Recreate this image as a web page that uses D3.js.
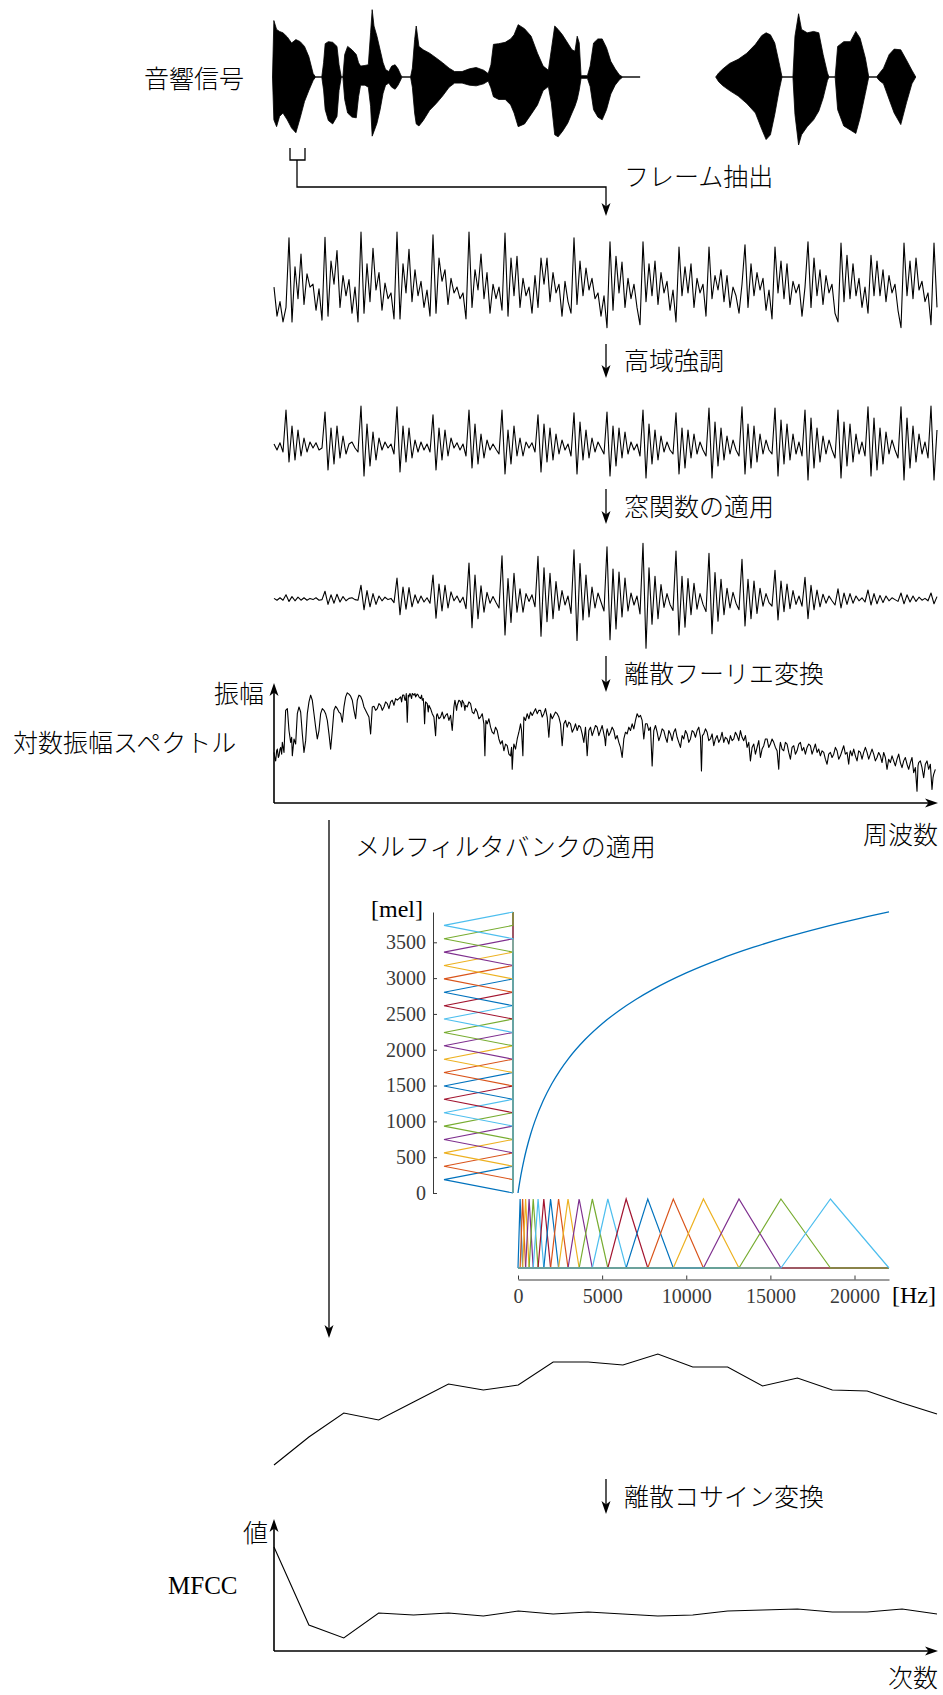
<!DOCTYPE html>
<html><head><meta charset="utf-8">
<script src="https://cdn.jsdelivr.net/npm/d3@7"></script>
<style>
body{margin:0;background:#fff}
svg{display:block}
.jp{font-family:"Noto Sans CJK JP","Noto Sans CJK SC",sans-serif;font-size:25px;font-weight:300;fill:#000}
.rm{font-family:"Liberation Serif","DejaVu Serif",serif;fill:#000}
</style></head><body>
<svg id="fig" width="943" height="1695"></svg>
<script>
// ---- speech signal envelope (time in ms, normalised amplitude) ----
const speechT = [11,17,29,42,57,76,95,114,133,152,171,190,201,228,236,243,257,276,295,304,314,321,329,342,361,380,390,399,418,433,443,450,458,471,485,498,509,523,536,551,564,576,581,619,627,637,644,656,675,703,732,760,789,813,846,878,908,941,961,973,984,1007,1036,1060,1075,1093,1121,1150,1178,1203,1226,1239,1254,1269,1288,1311,1330,1343,1353,1362,1370,1398,1410,1425,1444,1463,1482,1501,1520,1539,1554,1630,
1963,1976,1995,2024,2062,2100,2138,2166,2185,2204,2223,2242,2255,2303,2312,2328,2341,2366,2394,2417,2436,2455,2462,2489,2500,2527,2556,2580,2599,2622,2637,2671,2683,2702,2727,2749,2778,2803,2827,2844];
const speechUpper = [0,0.83,0.70,0.67,0.65,0.59,0.50,0.55,0.52,0.45,0.30,0.05,0,0,0.21,0.49,0.52,0.51,0.45,0.18,0,0,0.33,0.45,0.40,0.33,0.21,0.16,0.17,0.18,0.65,0.99,0.75,0.60,0.40,0.21,0.11,0.08,0.16,0.18,0.12,0.03,0,0,0.13,0.55,0.75,0.45,0.40,0.35,0.28,0.21,0.13,0.08,0.08,0.12,0.14,0.10,0.05,0.18,0.48,0.49,0.51,0.56,0.62,0.77,0.71,0.60,0.35,0.16,0.10,0.40,0.75,0.70,0.62,0.50,0.40,0.38,0.60,0.50,0.02,0.02,0.16,0.50,0.56,0.56,0.43,0.23,0.12,0.03,0,0,
0,0.06,0.12,0.20,0.26,0.35,0.48,0.61,0.65,0.62,0.50,0.21,0,0,0.60,0.93,0.70,0.65,0.67,0.65,0.33,0.06,0,0,0.45,0.52,0.52,0.67,0.57,0.28,0,0,0.05,0.13,0.33,0.41,0.40,0.25,0.10,0];
const speechLower = [0,-0.63,-0.73,-0.58,-0.53,-0.63,-0.75,-0.82,-0.60,-0.36,-0.20,-0.05,0,0,-0.19,-0.48,-0.64,-0.69,-0.58,-0.20,0,0,-0.33,-0.53,-0.59,-0.60,-0.29,-0.12,-0.12,-0.15,-0.43,-0.87,-0.80,-0.68,-0.48,-0.24,-0.12,-0.09,-0.15,-0.18,-0.12,-0.04,0,0,-0.15,-0.53,-0.69,-0.72,-0.64,-0.49,-0.39,-0.28,-0.15,-0.09,-0.09,-0.12,-0.13,-0.10,-0.06,-0.16,-0.29,-0.33,-0.33,-0.41,-0.53,-0.73,-0.69,-0.55,-0.41,-0.20,-0.14,-0.38,-0.85,-0.88,-0.80,-0.68,-0.53,-0.43,-0.33,-0.19,-0.02,-0.02,-0.14,-0.48,-0.59,-0.63,-0.48,-0.25,-0.12,-0.04,0,0,
0,-0.07,-0.13,-0.20,-0.28,-0.39,-0.53,-0.77,-0.92,-0.85,-0.55,-0.20,0,0,-0.55,-1.00,-0.85,-0.73,-0.63,-0.50,-0.31,-0.05,0,0,-0.48,-0.72,-0.78,-0.83,-0.60,-0.24,0,0,-0.05,-0.10,-0.33,-0.53,-0.70,-0.38,-0.10,0];

// ---- one frame (samples) ----
const frameWave = [0.05,-0.45,-0.20,-0.55,-0.30,
0.90,-0.55,0.40,-0.15,0.62,-0.25,0.28,0.05,0.10,-0.35,0.02,-0.52,
0.91,-0.45,0.50,0.10,0.68,-0.30,0.25,-0.10,0.18,-0.40,0.05,-0.55,
1.00,-0.40,0.45,-0.20,0.72,0.00,0.30,-0.35,0.12,-0.15,-0.05,-0.50,
1.00,-0.50,0.45,-0.05,0.70,-0.20,0.35,-0.10,0.15,-0.30,0.00,-0.45,
0.95,-0.40,0.55,0.15,0.35,-0.25,0.20,-0.05,0.05,-0.15,-0.05,-0.50,
1.00,-0.30,0.35,0.00,0.62,-0.15,0.30,-0.40,0.10,-0.15,0.05,-0.35,
0.98,-0.45,0.55,-0.10,0.58,-0.30,0.20,-0.10,0.05,-0.40,0.25,-0.30,
0.55,0.10,0.55,-0.20,0.30,-0.05,0.10,-0.45,0.15,-0.20,-0.40,
0.90,-0.25,0.50,-0.10,0.38,0.00,0.20,-0.15,-0.05,-0.45,-0.10,-0.65,
0.83,-0.35,0.58,-0.05,0.48,-0.30,0.20,-0.15,0.10,-0.30,-0.60,
0.83,-0.20,0.45,-0.10,0.50,-0.25,0.30,-0.05,0.15,-0.35,0.00,-0.55,
0.74,-0.10,0.40,-0.05,0.45,-0.30,0.20,-0.05,0.10,-0.45,
0.74,-0.15,0.25,0.00,0.35,-0.20,0.25,-0.30,0.05,-0.10,-0.40,0.10,
0.78,-0.30,0.45,-0.10,0.30,0.00,0.20,-0.35,0.00,-0.50,
0.74,-0.05,0.50,-0.15,0.45,-0.25,0.15,-0.05,0.10,-0.45,0.05,
0.83,-0.30,0.55,-0.10,0.35,-0.25,0.25,-0.05,0.10,-0.40,-0.55,
0.81,-0.20,0.60,-0.15,0.45,-0.10,0.20,-0.30,0.05,-0.40,
0.60,-0.10,0.50,-0.10,0.35,-0.20,0.25,-0.05,0.10,-0.35,-0.65,
0.81,-0.10,0.50,-0.15,0.55,0.00,0.15,-0.20,-0.05,-0.60,
0.81,-0.30];

// ---- after pre-emphasis ----
const emphWave = [0.05,-0.10,0.08,-0.15,
0.90,-0.40,0.50,-0.35,0.40,-0.25,0.20,-0.15,0.10,-0.05,0.08,-0.10,-0.05,
0.85,-0.60,0.45,-0.45,0.50,-0.30,0.25,-0.20,0.05,0.10,-0.05,-0.15,
1.00,-0.75,0.55,-0.50,0.35,-0.35,0.20,-0.10,0.10,-0.05,0.05,-0.20,
0.98,-0.65,0.50,-0.40,0.45,-0.30,0.15,-0.15,0.10,-0.10,0.05,-0.15,
0.78,-0.60,0.45,-0.35,0.40,-0.25,0.20,-0.05,0.08,-0.10,0.05,-0.25,
0.90,-0.55,0.55,-0.45,0.30,-0.30,0.15,-0.10,0.05,-0.08,-0.20,
0.90,-0.70,0.40,-0.45,0.50,-0.25,0.20,-0.25,0.10,-0.05,0.08,-0.15,
0.78,-0.65,0.55,-0.40,0.45,-0.35,0.30,-0.20,0.15,-0.10,0.05,-0.25,
0.83,-0.70,0.60,-0.35,0.40,-0.30,0.20,-0.15,0.10,-0.05,-0.20,
0.85,-0.75,0.50,-0.50,0.45,-0.30,0.35,-0.20,0.10,-0.10,0.05,-0.25,
0.90,-0.80,0.55,-0.45,0.40,-0.35,0.25,-0.15,0.10,-0.10,-0.20,
0.83,-0.70,0.45,-0.55,0.40,-0.30,0.30,-0.20,0.10,-0.10,-0.25,
0.95,-0.80,0.60,-0.50,0.45,-0.35,0.25,-0.20,0.15,-0.10,-0.25,
0.98,-0.70,0.55,-0.55,0.50,-0.40,0.30,-0.20,0.15,-0.10,-0.20,
0.95,-0.75,0.65,-0.45,0.55,-0.35,0.30,-0.20,0.10,-0.25,
0.90,-0.85,0.70,-0.55,0.45,-0.40,0.25,-0.20,0.15,-0.10,-0.30,
0.90,-0.80,0.60,-0.50,0.55,-0.40,0.30,-0.20,0.10,-0.25,
0.98,-0.75,0.70,-0.60,0.45,-0.45,0.35,-0.20,0.15,-0.10,-0.30,
0.98,-0.85,0.70,-0.55,0.50,-0.40,0.30,-0.20,0.10,-0.30,
1.00,-0.85,0.40];

// ---- after the window ----
const windowedWave = [0.01,-0.02,0.02,-0.02,
0.07,-0.04,0.04,-0.03,0.03,-0.02,0.02,-0.02,0.01,-0.01,0.02,-0.02,-0.01,
0.13,-0.09,0.07,-0.07,0.08,-0.05,0.04,-0.03,0.01,0.02,-0.01,-0.02,
0.23,-0.18,0.14,-0.13,0.09,-0.09,0.05,-0.03,0.03,-0.01,0.01,-0.06,
0.35,-0.26,0.20,-0.17,0.19,-0.13,0.07,-0.07,0.05,-0.05,0.02,-0.07,
0.40,-0.32,0.25,-0.20,0.23,-0.15,0.12,-0.03,0.05,-0.06,0.03,-0.16,
0.60,-0.48,0.40,-0.33,0.22,-0.22,0.11,-0.07,0.04,-0.06,-0.15,
0.72,-0.60,0.34,-0.39,0.43,-0.22,0.17,-0.22,0.09,-0.04,0.07,-0.13,
0.71,-0.62,0.52,-0.38,0.43,-0.33,0.29,-0.19,0.14,-0.10,0.05,-0.24,
0.82,-0.69,0.59,-0.35,0.40,-0.30,0.20,-0.15,0.10,-0.05,-0.20,
0.87,-0.68,0.50,-0.50,0.45,-0.30,0.35,-0.20,0.10,-0.10,0.05,-0.25,
0.93,-0.82,0.52,-0.42,0.38,-0.33,0.24,-0.14,0.09,-0.09,-0.19,
0.80,-0.60,0.38,-0.47,0.34,-0.26,0.26,-0.17,0.09,-0.09,-0.21,
0.76,-0.58,0.44,-0.37,0.33,-0.26,0.18,-0.15,0.11,-0.07,-0.18,
0.66,-0.45,0.33,-0.33,0.30,-0.24,0.18,-0.12,0.09,-0.06,-0.12,
0.48,-0.35,0.30,-0.21,0.25,-0.16,0.14,-0.09,0.05,-0.12,
0.36,-0.33,0.23,-0.18,0.15,-0.13,0.08,-0.07,0.05,-0.03,-0.10,
0.17,-0.15,0.10,-0.09,0.09,-0.07,0.05,-0.03,0.02,-0.05,
0.15,-0.10,0.09,-0.08,0.06,-0.06,0.05,-0.03,0.02,-0.01,-0.04,
0.10,-0.08,0.07,-0.05,0.05,-0.04,0.03,-0.02,0.01,-0.03,
0.10,-0.08,0.04];

// ---- log amplitude spectrum: [DFT bin, level dB] ----
const spectrum = [[0,-43],[3,-47],[5,-48],[8,-42],[10,-41],[13,-46],[15,-45],[18,-41],[20,-40],[23,-44],[25,-37],[30,-43],[35,-18],[40,-17],[45,-30],[50,-37],[53,-34],[55,-45],[60,-35],[65,-38],[70,-20],[75,-16],[80,-19],[85,-32],[90,-43],[95,-36],[100,-20],[105,-13],[110,-9],[115,-12],[120,-20],[125,-28],[130,-35],[135,-30],[140,-20],[145,-17],[150,-18],[155,-20],[160,-24],[165,-32],[170,-41],[175,-30],[180,-18],[185,-15.6],[190,-17],[195,-19],[200,-20],[205,-25],[210,-16],[215,-10],[220,-7.6],[225,-8.4],[230,-9.6],[235,-12],[240,-18],[245,-23],[250,-12],[255,-9],[260,-9.6],[265,-12],[270,-16],[280,-20],[285,-22],[290,-32],[295,-16],[300,-15.6],[305,-18],[310,-17],[315,-14],[320,-15],[325,-18],[330,-16],[335,-13],[340,-14],[345,-17],[350,-13],[355,-12],[360,-15],[365,-11],[370,-12],[375,-11],[380,-10],[383,-13],[386,-9],[390,-9],[393,-12],[395,-12],[397,-8],[400,-25],[403,-9],[405,-10],[408,-8],[410,-9],[413,-11],[415,-8],[420,-9],[423,-8],[425,-10],[430,-8.4],[433,-9],[435,-10],[440,-11],[443,-9],[445,-12],[448,-11],[450,-16],[452,-26],[455,-13],[460,-14],[463,-19],[465,-15],[470,-17],[475,-20],[480,-22],[485,-33],[488,-21],[490,-20],[495,-23],[500,-22],[505,-19],[510,-23],[515,-21],[520,-20],[525,-24],[530,-21],[535,-30],[540,-16],[543,-12],[545,-14],[548,-18],[550,-15],[555,-12],[560,-13],[563,-16],[565,-12],[570,-14],[573,-18],[575,-15],[580,-16],[585,-13],[590,-14],[595,-19],[600,-20],[605,-17],[610,-19],[615,-23],[620,-22],[625,-20],[630,-26],[633,-45],[636,-24],[640,-26],[645,-23],[650,-28],[655,-31],[660,-32],[665,-28],[670,-30],[675,-35],[680,-38],[685,-36],[690,-42],[695,-38],[700,-39],[705,-44],[710,-45],[713,-40],[715,-53],[718,-42],[720,-38],[725,-41],[730,-35],[735,-31],[740,-26],[743,-30],[747,-45],[750,-22],[755,-24],[760,-20],[765,-23],[770,-19],[775,-21],[780,-19],[785,-17],[790,-20],[795,-18],[800,-18],[805,-22],[810,-20],[815,-17],[820,-22],[825,-34],[830,-20],[835,-23],[840,-21],[845,-19],[850,-20],[855,-22],[860,-26],[865,-39],[870,-26],[875,-24],[880,-28],[885,-25],[890,-26],[895,-31],[900,-29],[905,-26],[910,-30],[915,-27],[920,-28],[925,-32],[930,-37],[935,-28],[940,-45],[945,-30],[950,-28],[955,-33],[960,-30],[965,-27],[970,-28],[975,-33],[980,-30],[985,-27],
[990,-32],[993,-35],[995,-39],[998,-31],[1000,-29],[1005,-33],[1010,-31],[1015,-28],[1020,-30],[1025,-35],[1030,-33],[1035,-37],[1040,-40],[1045,-46],[1050,-35],[1055,-31],[1060,-32],[1065,-28],[1070,-30],[1075,-26],[1080,-29],[1085,-24],[1090,-20],[1095,-22],[1100,-21],[1105,-24],[1110,-35],[1115,-26],[1120,-26],[1125,-30],[1130,-28],[1135,-51],[1140,-30],[1145,-27],[1150,-31],[1155,-36],[1160,-33],[1165,-29],[1170,-30],[1175,-34],[1180,-37],[1185,-30],[1190,-32],[1195,-36],[1200,-31],[1205,-29],[1210,-34],[1215,-37],[1220,-40],[1225,-33],[1230,-35],[1235,-30],[1240,-32],[1245,-37],[1250,-35],[1255,-30],[1260,-31],[1265,-34],[1270,-30],[1275,-28],[1280,-34],[1283,-54],[1286,-33],[1290,-32],[1295,-29],[1300,-31],[1305,-36],[1310,-35],[1315,-32],[1320,-39],[1325,-35],[1330,-33],[1335,-37],[1340,-35],[1345,-31],[1350,-37],[1355,-34],[1360,-35],[1365,-38],[1370,-33],[1375,-36],[1380,-35],[1385,-31],[1390,-33],[1395,-36],[1400,-30],[1405,-34],[1410,-36],[1415,-33],[1420,-40],[1425,-37],[1430,-48],[1435,-40],[1440,-38],[1445,-44],[1450,-40],[1455,-36],[1460,-46],[1465,-41],[1470,-39],[1475,-35],[1480,-35],[1485,-40],[1490,-38],[1495,-35],[1500,-37],[1505,-40],[1510,-42],[1515,-53],[1518,-40],[1520,-37],[1525,-41],[1530,-42],[1535,-37],[1540,-38],[1545,-43],[1550,-47],[1555,-40],[1560,-39],[1565,-44],[1570,-42],[1575,-38],[1580,-37],[1585,-42],[1590,-40],[1595,-44],[1600,-40],[1605,-38],[1610,-39],[1615,-44],[1620,-41],[1625,-38],[1630,-43],[1635,-41],[1640,-45],[1645,-42],[1650,-43],[1655,-47],[1660,-50],[1665,-44],[1670,-43],[1675,-46],[1680,-44],[1685,-40],[1690,-42],[1695,-47],[1700,-45],[1705,-42],[1710,-39],[1715,-44],[1720,-43],[1725,-50],[1728,-44],[1730,-42],[1735,-45],[1740,-41],[1745,-45],[1750,-48],[1755,-42],[1760,-43],[1765,-47],[1770,-43],[1775,-40],[1780,-43],[1785,-47],[1790,-44],[1795,-41],[1800,-44],[1805,-48],[1810,-46],[1815,-43],[1820,-45],[1825,-49],[1830,-43],[1835,-46],[1840,-53],[1845,-47],[1850,-49],[1855,-45],[1860,-48],[1865,-51],[1870,-47],[1875,-44],[1880,-49],[1885,-52],[1890,-48],[1895,-46],[1900,-50],[1905,-53],[1910,-49],[1915,-46],[1920,-55],[1925,-52],[1930,-66],[1933,-51],[1935,-49],[1940,-48],[1945,-52],[1950,-58],[1955,-50],[1960,-48],[1965,-53],[1970,-50],[1975,-65],[1978,-58],[1980,-56],[1985,-53]];

// ---- mel filter bank: band edges in mel and the matching frequencies in Hz ----
const melEdges = [0,186.8,373.6,560.4,747.2,934.0,1120.9,1307.7,1494.5,1681.3,1868.1,2054.9,2241.7,2428.5,2615.3,2802.1,2989.0,3175.8,3362.6,3549.4,3736.2,3923.0];
const hzEdges  = [0,126,275,451,659,904,1193,1534,1937,2412,2973,3635,4417,5339,6428,7713,9230,11020,13133,15627,18570,22050];
// Hz -> mel curve
const curveHz  = [0,25,50,100,175,250,350,500,750,1000,1500,2000,2500,3000,4000,5000,6000,7000,8000,10000,12000,14000,16000,18000,20000,22050];
const curveMel = [0,39.5,77.8,150.5,251.5,344.2,456.9,607.4,820.7,1000.0,1290.5,1521.4,1712.8,1876.4,2146.0,2363.5,2545.6,2702.4,2840.1,3073.2,3266.3,3431.2,3574.9,3702.4,3816.9,3923.3];
const melTicks = [0,500,1000,1500,2000,2500,3000,3500];
const hzTicks  = [0,5000,10000,15000,20000];

// ---- filter bank outputs (log energies) and MFCC ----
const melEnergy = [1.5,4.3,6.7,6.0,7.8,9.6,9.0,9.5,11.8,11.8,11.5,12.6,11.3,11.3,9.4,10.2,9.0,8.9,7.7,6.6];
const mfcc = [104,26,13,38,36,38,35,40,37,39,37,35,36,40,41,42,39,39,42,37];

const palette = ["#0072BD","#D95319","#EDB120","#7E2F8E","#77AC30","#4DBEEE","#A2142F"];

const svg = d3.select("#fig");

// arrowhead with its tip at (x,y); angle 0 points down
function arrowHead(x, y, angle) {
  svg.append("path")
    .attr("d", "M0,0L-4.5,-13L0,-9.5L4.5,-13Z")
    .attr("transform", `translate(${x},${y}) rotate(${angle})`)
    .attr("fill", "#000");
}
function line(pts, w) {
  svg.append("path").attr("d", d3.line()(pts))
    .attr("fill", "none").attr("stroke", "#000").attr("stroke-width", w || 1.3);
}
function jp(txt, x, y, anchor) {
  svg.append("text").attr("class", "jp").attr("x", x).attr("y", y)
    .attr("text-anchor", anchor || "start").text(txt);
}
function downStep(x, y0, y1, label) {
  line([[x, y0], [x, y1 - 6]]);
  arrowHead(x, y1, 0);
  jp(label, 624, (y0 + y1) / 2 + 9);
}

// ---- speech signal ----
const spX = d3.scaleLinear([0, 2964], [270, 943]);
const spY = d3.scaleLinear([-1, 1], [145, 9]);
const speech = speechT.map((t, i) => ({t, hi: speechUpper[i], lo: speechLower[i]}));
const segs = [[]];
speech.forEach((d, i) => {
  if (i > 0 && d.t - speech[i - 1].t > 200) segs.push([]);
  segs[segs.length - 1].push(d);
});
segs.forEach(seg => {
  svg.append("line").attr("x1", spX(seg[0].t)).attr("x2", spX(seg[seg.length - 1].t))
    .attr("y1", spY(0)).attr("y2", spY(0)).attr("stroke", "#aaa").attr("stroke-width", 1);
  svg.append("path")
    .attr("d", d3.area().x(d => spX(d.t)).y0(d => spY(d.lo)).y1(d => spY(d.hi))(seg))
    .attr("fill", "#000").attr("stroke", "#000").attr("stroke-width", 0.8);
});
jp("音響信号", 144, 88);

// frame selection bracket and arrow
svg.append("path").attr("d", "M290,148V160H305V148").attr("fill", "none")
  .attr("stroke", "#000").attr("stroke-width", 1.3);
line([[297, 160], [297, 187], [606, 187], [606, 210]]);
arrowHead(606, 216, 0);
jp("フレーム抽出", 624, 186);

// ---- waveforms ----
function wave(values, yScale) {
  const x = d3.scaleLinear([0, values.length - 1], [274, 937]);
  svg.append("path")
    .attr("d", d3.line().x((d, i) => x(i)).y(d => yScale(d))(values))
    .attr("fill", "none").attr("stroke", "#000").attr("stroke-width", 1.1)
    .attr("stroke-linejoin", "round");
}
wave(frameWave, d3.scaleLinear([-1, 1], [348, 232]));
downStep(606, 344, 378, "高域強調");
wave(emphWave, d3.scaleLinear([-1, 1], [486, 406]));
downStep(606, 489, 524, "窓関数の適用");
wave(windowedWave, d3.scaleLinear([-1, 1], [659, 539]));
downStep(606, 656, 692, "離散フーリエ変換");

// ---- log amplitude spectrum ----
const fX = d3.scaleLinear([0, 1990], [274, 937]);
const fY = d3.scaleLinear([-73, 0], [803, 680]);
svg.append("path")
  .attr("d", d3.line().x(d => fX(d[0])).y(d => fY(d[1]))(spectrum))
  .attr("fill", "none").attr("stroke", "#000").attr("stroke-width", 1.1)
  .attr("stroke-linejoin", "round");
line([[274, 803], [274, 690]], 1.6);
arrowHead(274, 683, 180);
line([[274, 803], [931, 803]], 1.6);
arrowHead(938, 803, -90);
jp("振幅", 264, 703, "end");
jp("対数振幅スペクトル", 13, 752);
jp("周波数", 938, 844, "end");

// arrow down to the filter bank output
line([[329, 820], [329, 1332]]);
arrowHead(329, 1338, 0);
jp("メルフィルタバンクの適用", 355, 856);

// ---- mel filter bank ----
const hzX = d3.scaleLinear([0, 22050], [518, 889]);
const melY = d3.scaleLinear([0, 3923], [1193, 912]);
const gainX = d3.scaleLinear([0, 1], [513, 444]);
const gainY = d3.scaleLinear([0, 1], [1268, 1199]);
for (let i = 1; i < melEdges.length - 1; i++) {
  const c = palette[(i - 1) % palette.length];
  const m = [[0, 0], [melEdges[i - 1], 0], [melEdges[i], 1], [melEdges[i + 1], 0], [melEdges[melEdges.length - 1], 0]];
  svg.append("path").attr("d", d3.line().x(d => gainX(d[1])).y(d => melY(d[0]))(m))
    .attr("fill", "none").attr("stroke", c).attr("stroke-width", 1.1);
  const h = [[0, 0], [hzEdges[i - 1], 0], [hzEdges[i], 1], [hzEdges[i + 1], 0], [hzEdges[hzEdges.length - 1], 0]];
  svg.append("path").attr("d", d3.line().x(d => hzX(d[0])).y(d => gainY(d[1]))(h))
    .attr("fill", "none").attr("stroke", c).attr("stroke-width", 1.2);
}
// frequency -> mel curve
svg.append("path")
  .attr("d", d3.line().x(d => hzX(d)).y((d, i) => melY(curveMel[i])).curve(d3.curveMonotoneX)(curveHz))
  .attr("fill", "none").attr("stroke", palette[0]).attr("stroke-width", 1.3);

// axes
const melAxis = svg.append("g").attr("transform", "translate(433,0)")
  .call(d3.axisLeft(melY).tickValues(melTicks).tickFormat(d3.format("d"))
    .tickSizeInner(-4).tickSizeOuter(0).tickPadding(7));
const hzAxis = svg.append("g").attr("transform", "translate(0,1279.5)")
  .call(d3.axisBottom(hzX).tickValues(hzTicks).tickFormat(d3.format("d"))
    .tickSizeInner(-4).tickSizeOuter(0).tickPadding(9));
[melAxis, hzAxis].forEach(g => {
  g.attr("color", "#3a3a3a").attr("font-family", "Liberation Serif, serif").attr("font-size", 20);
  g.selectAll("text").attr("fill", "#3a3a3a");
});
svg.append("text").attr("class", "rm").attr("x", 423).attr("y", 917)
  .attr("text-anchor", "end").attr("font-size", 24).text("[mel]");
svg.append("text").attr("class", "rm").attr("x", 892).attr("y", 1303)
  .attr("font-size", 24).text("[Hz]");

// ---- filter bank output ----
const eX = d3.scaleLinear([0, melEnergy.length - 1], [274, 937]);
const eY = d3.scaleLinear([0, 14], [1480, 1340]);
svg.append("path").attr("d", d3.line().x((d, i) => eX(i)).y(d => eY(d))(melEnergy))
  .attr("fill", "none").attr("stroke", "#000").attr("stroke-width", 1.1);
downStep(606, 1479, 1514, "離散コサイン変換");

// ---- MFCC ----
const cX = d3.scaleLinear([0, mfcc.length - 1], [274, 937]);
const cY = d3.scaleLinear([0, 130], [1651, 1521]);
svg.append("path").attr("d", d3.line().x((d, i) => cX(i)).y(d => cY(d))(mfcc))
  .attr("fill", "none").attr("stroke", "#000").attr("stroke-width", 1.1);
line([[274, 1651], [274, 1526]], 1.6);
arrowHead(274, 1519, 180);
line([[274, 1651], [931, 1651]], 1.6);
arrowHead(938, 1651, -90);
jp("値", 268, 1542, "end");
svg.append("text").attr("class", "rm").attr("x", 168).attr("y", 1594)
  .attr("font-size", 25).text("MFCC");
jp("次数", 938, 1687, "end");
</script>
</body></html>
